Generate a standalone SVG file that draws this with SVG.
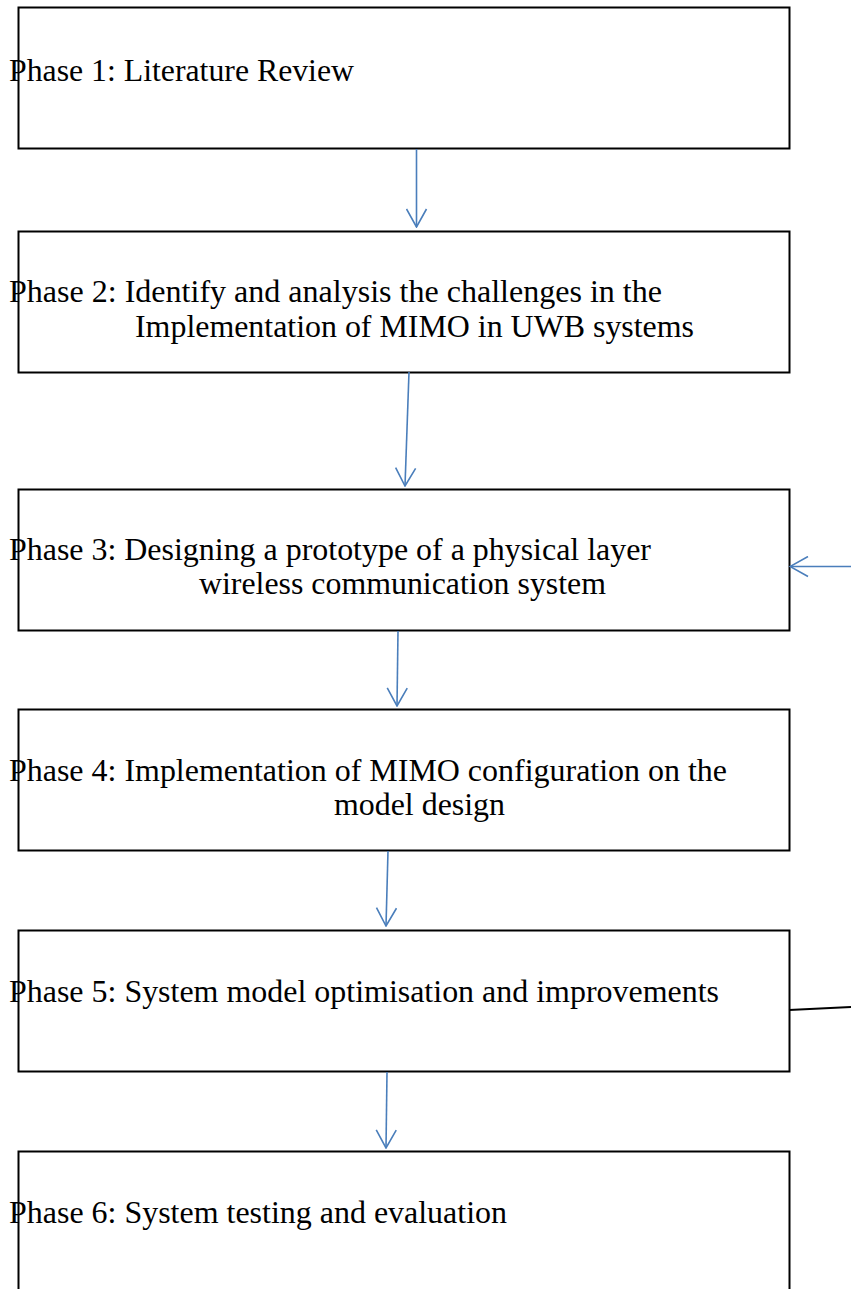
<svg xmlns="http://www.w3.org/2000/svg" width="851" height="1289" viewBox="0 0 851 1289">
  <defs>
    <style>
      .box { fill: #ffffff; stroke: #000000; stroke-width: 2; }
      .label { font-family: "Liberation Serif", "Times New Roman", serif; font-size: 32px; fill: #000000; }
      .flow { fill: none; stroke: #4a7ebb; stroke-width: 1.6; }
      .link { fill: none; stroke: #000000; stroke-width: 1.8; }
    </style>
    <marker id="open-arrow" viewBox="0 0 20 22" refX="19" refY="11" markerWidth="20" markerHeight="22" markerUnits="userSpaceOnUse" orient="auto">
      <path d="M1,1 L19,11 L1,21" fill="none" stroke="#4a7ebb" stroke-width="1.6"/>
    </marker>
  </defs>

  <rect width="851" height="1289" fill="#ffffff"/>

  <!-- process phases -->
  <g id="phase1">
    <rect class="box" x="18.5" y="7.5" width="771" height="141"/>
    <text class="label" x="9" y="81" textLength="345" lengthAdjust="spacingAndGlyphs">Phase 1: Literature Review</text>
  </g>

  <g id="phase2">
    <rect class="box" x="18.5" y="231.5" width="771" height="141"/>
    <text class="label" x="9" y="302" textLength="653" lengthAdjust="spacingAndGlyphs">Phase 2: Identify and analysis the challenges in the</text>
    <text class="label" x="135" y="337" textLength="559" lengthAdjust="spacingAndGlyphs">Implementation of MIMO in UWB systems</text>
  </g>

  <g id="phase3">
    <rect class="box" x="18.5" y="489.5" width="771" height="141"/>
    <text class="label" x="9" y="560" textLength="642" lengthAdjust="spacingAndGlyphs">Phase 3: Designing a prototype of a physical layer</text>
    <text class="label" x="199" y="594" textLength="407" lengthAdjust="spacingAndGlyphs">wireless communication system</text>
  </g>

  <g id="phase4">
    <rect class="box" x="18.5" y="709.5" width="771" height="141"/>
    <text class="label" x="9" y="781" textLength="718" lengthAdjust="spacingAndGlyphs">Phase 4: Implementation of MIMO configuration on the</text>
    <text class="label" x="334" y="815" textLength="171" lengthAdjust="spacingAndGlyphs">model design</text>
  </g>

  <g id="phase5">
    <rect class="box" x="18.5" y="930.5" width="771" height="141"/>
    <text class="label" x="9" y="1002" textLength="710" lengthAdjust="spacingAndGlyphs">Phase 5: System model optimisation and improvements</text>
  </g>

  <g id="phase6">
    <rect class="box" x="18.5" y="1151.5" width="771" height="141"/>
    <text class="label" x="9" y="1223" textLength="498" lengthAdjust="spacingAndGlyphs">Phase 6: System testing and evaluation</text>
  </g>

  <!-- connectors -->
  <g id="connectors">
    <line class="flow" x1="416.5" y1="149" x2="416.5" y2="227" marker-end="url(#open-arrow)"/>
    <line class="flow" x1="409" y1="372" x2="405" y2="486" marker-end="url(#open-arrow)"/>
    <line class="flow" x1="398" y1="631" x2="397" y2="706" marker-end="url(#open-arrow)"/>
    <line class="flow" x1="388" y1="851" x2="386" y2="926" marker-end="url(#open-arrow)"/>
    <line class="flow" x1="387" y1="1072" x2="386" y2="1148" marker-end="url(#open-arrow)"/>
    <!-- feedback from phase 5 back to phase 3 -->
    <line class="link" x1="789" y1="1010" x2="851" y2="1007"/>
    <line class="flow" x1="851" y1="566.5" x2="790" y2="566.5" marker-end="url(#open-arrow)"/>
  </g>
</svg>
